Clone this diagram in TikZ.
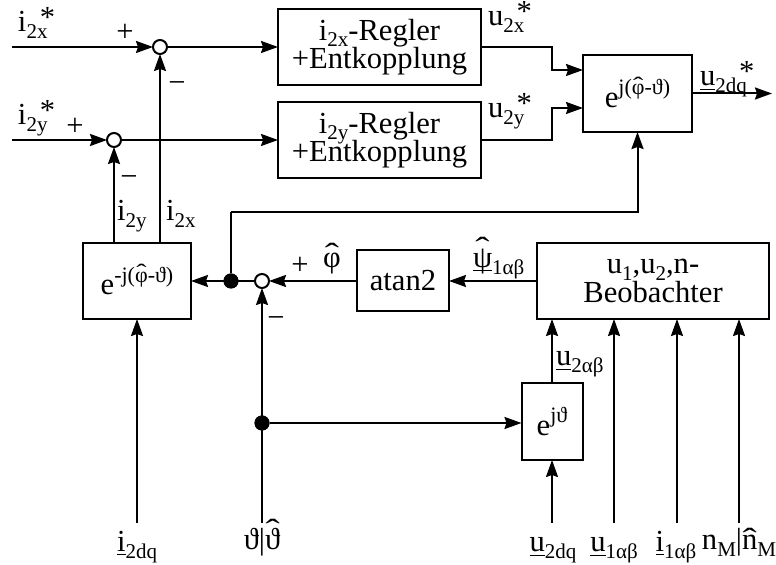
\documentclass[tikz,border=0pt]{standalone}
\usepackage{fontspec}
\setmainfont{Liberation Serif}
\usepackage{graphicx}
\usetikzlibrary{arrows.meta,calc}
\newcommand\sbs[1]{\raisebox{-0.22em}{\fontsize{10.5}{10.5}\selectfont #1}}
\newcommand\sps[1]{\raisebox{0.42em}{\fontsize{11}{11}\selectfont #1}}
\newcommand\strs{\kern-0.25em\raisebox{0.15em}{*}}
\newcommand\hatc[2][0pt]{\ooalign{#2\cr\hidewidth\raisebox{#1}{\scalebox{1.4}[1]{ˆ}}\hidewidth\cr}}
\newcommand\nodefont{\fontsize{15.3}{14.2}\selectfont\setlength{\lineskiplimit}{-100pt}}
\tikzset{
  every node/.style={font=\nodefont, inner sep=0pt, outer sep=0pt},
  blk/.style={draw, line width=1pt, align=center, fill=white},
  sumc/.style={circle, draw, line width=1pt, fill=white, minimum size=7pt},
  dotc/.style={circle, fill=black, minimum size=7.5pt},
  sig/.style={line width=1pt, -{Stealth[length=8.5pt,width=6pt,inset=1pt]}},
  wire/.style={line width=1pt},
  lbl/.style={anchor=base west},
}
\begin{document}
\begin{tikzpicture}[x=0.5pt,y=-0.5pt]
\useasboundingbox (0,0) rectangle (776,565);
% blocks
\node[blk, minimum width=101.5pt, minimum height=38pt] (R1) at (379.5,47) {i\sbs{2x}-Regler\\+Entkopplung};
\node[blk, minimum width=101.5pt, minimum height=38pt] (R2) at (379.5,140) {i\sbs{2y}-Regler\\+Entkopplung};
\node[blk, minimum width=54.5pt, minimum height=38.5pt] (E) at (637.5,93.5) {e\sps{j(\hatc[0.1em]{φ}-ϑ)}};
\node[blk, minimum width=54pt, minimum height=38pt] (L) at (137,281) {e\sps{-j(\hatc[0.1em]{φ}-ϑ)}};
\node[blk, minimum width=46pt, minimum height=30.5pt] (A) at (403,281) {atan2};
\node[blk, minimum width=116pt, minimum height=38pt] (O) at (653,281) {u\sbs{1},u\sbs{2},n-\\Beobachter};
\node[blk, minimum width=30.5pt, minimum height=38.5pt] (J) at (552,421.5) {e\sps{jϑ}};
% summing points and dots
\node[sumc] (S1) at (160,47) {};
\node[sumc] (S2) at (114,140) {};
\node[sumc] (S3) at (262,281) {};
\node[dotc] (D1) at (231,281) {};
\node[dotc] (D2) at (262,423) {};
% free ends
\coordinate (in1) at (12,47);
\coordinate (in2) at (12,140);
\coordinate (top) at (0,212);
\coordinate (b1) at (137,523);
\coordinate (b2) at (262,523);
\coordinate (b3) at (552,523);
\coordinate (b4) at (614,523);
\coordinate (b5) at (677,523);
\coordinate (b6) at (739,523);
% connectors
\draw[sig] (in1) -- (S1);
\draw[sig] (S1) -- (R1.west);
\draw[sig] (in2) -- (S2);
\draw[sig] (S2) -- (R2.west);
\draw[sig] ($(L.north)+(23,0)$) -- (S1.south);
\draw[sig] ($(L.north)+(-23,0)$) -- (S2.south);
\draw[sig] (R1.east) -- ++(71,0) |- ($(E.west)+(0,-23.5)$);
\draw[sig] (R2.east) -- ++(71,0) |- ($(E.west)+(0,14.5)$);
\draw[sig] (E.east) -- ++(80,0);
\draw[sig] (O.west |- A.east) -- (A.east);
\draw[sig] (A.west) -- (S3);
\draw[sig] (S3) -- (L.east);
\draw[wire] (D1) -- (D1 |- top);
\draw[sig] (D1 |- top) -| (E.south);
\draw[sig] (b2) -- (S3.south);
\draw[sig] (D2) -- (D2 -| J.west);
\draw[sig] (J.north) -- (J.north |- O.south);
\draw[sig] (b3) -- (J.south);
\draw[sig] (b4) -- (b4 |- O.south);
\draw[sig] (b5) -- (b5 |- O.south);
\draw[sig] (b6) -- (b6 |- O.south);
\draw[sig] (b1) -- (L.south);
% redraw dots on top
\node[dotc] at (D1) {};
\node[dotc] at (D2) {};
% labels
\node[lbl] (t1) at (18,32) {i\sbs{2x}\strs};
\node (p1) at (125,33) {+};
\node (m1) at (177,87) {−};
\node[lbl] (t2) at (18,125) {i\sbs{2y}\strs};
\node (p2) at (75,127) {+};
\node (m2) at (129,181) {−};
\node[lbl] (t3) at (117,221) {i\sbs{2y}};
\node[lbl] (t4) at (166,221) {i\sbs{2x}};
\node[lbl] (t5) at (488,26) {u\sbs{2x}\strs};
\node[lbl] (t6) at (488,118) {u\sbs{2y}\strs};
\node[lbl] (t7) at (700,86) {\underline{u}\sbs{2dq}\strs};
\node (p3) at (300,266) {+};
\node[anchor=base] (t8) at (332,268) {\hatc[0.12em]{φ}};
\node (m3) at (276,322) {−};
\node[lbl] (t9) at (473,268) {\underline{\hatc[0.3em]{ψ}}\sbs{1αβ}};
\node[lbl] (t10) at (556,366) {\underline{u}\sbs{2αβ}};
\node[anchor=base] (t11) at (137,552) {\underline{i}\sbs{2dq}};
\node[anchor=base] (t12) at (262,550) {\llap{ϑ}|\rlap{\hatc[0.3em]{ϑ}}};
\node[anchor=base] (t13) at (553,552) {\underline{u}\sbs{2dq}};
\node[anchor=base] (t14) at (614,552) {\underline{u}\sbs{1αβ}};
\node[anchor=base] (t15) at (676,552) {\underline{i}\sbs{1αβ}};
\node[anchor=base] (t16) at (739,550) {\llap{n\sbs{M}}|\rlap{\hatc{n}\sbs{M}}};
\end{tikzpicture}
\end{document}
